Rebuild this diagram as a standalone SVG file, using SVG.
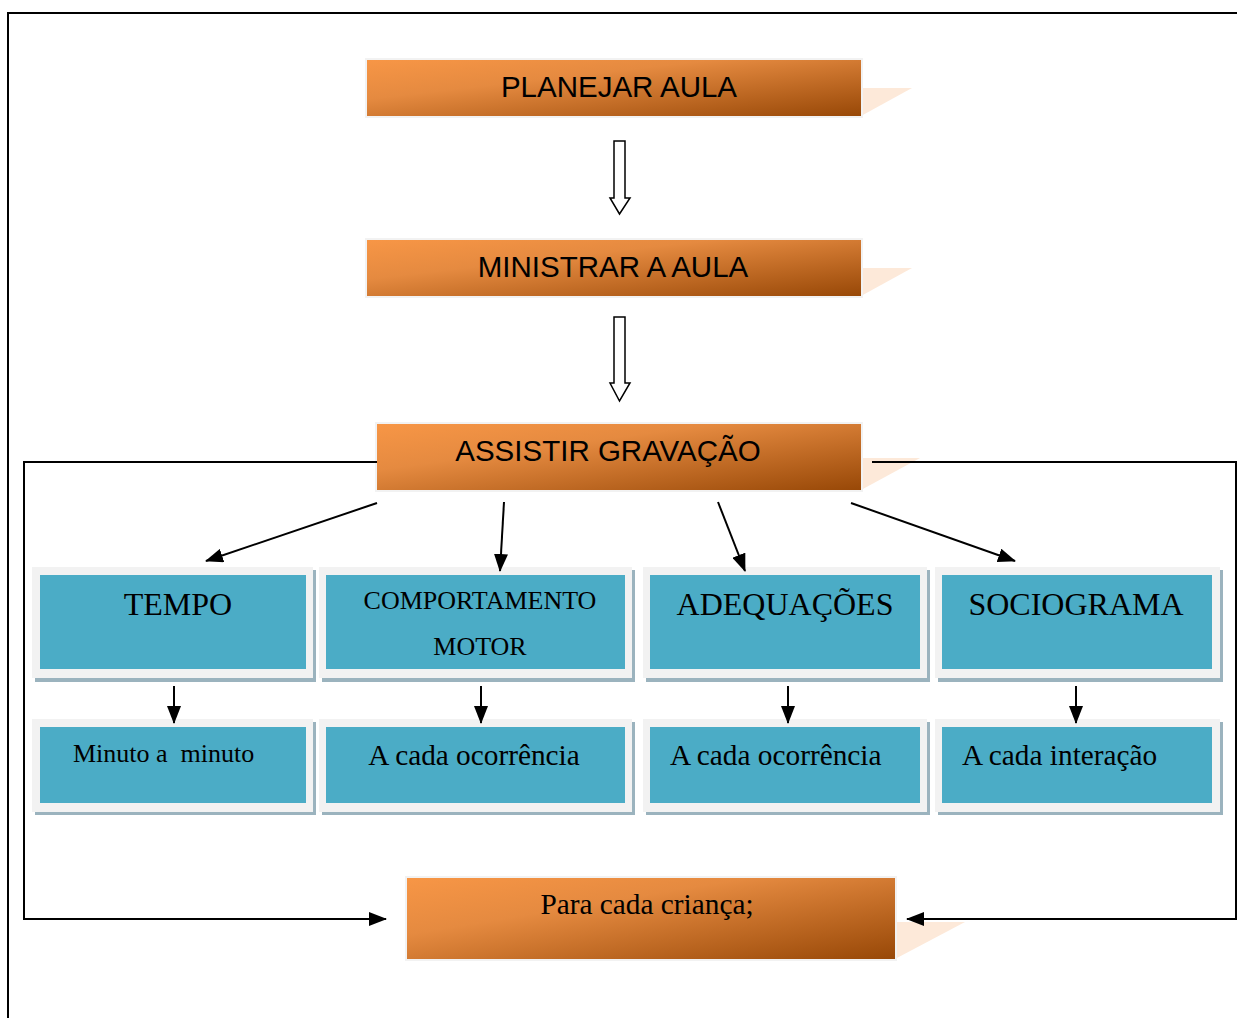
<svg xmlns="http://www.w3.org/2000/svg" width="1237" height="1018" viewBox="0 0 1237 1018">
<defs>
<linearGradient id="og" x1="0" y1="0" x2="1" y2="1">
<stop offset="0" stop-color="#f79646"/>
<stop offset="0.35" stop-color="#e58a40"/>
<stop offset="1" stop-color="#984807"/>
</linearGradient>
<marker id="ah" markerWidth="18" markerHeight="14" refX="17" refY="7" orient="auto" markerUnits="userSpaceOnUse">
<path d="M0,0 L18,7 L0,14 Z" fill="#000"/>
</marker>
</defs>
<style>
.frame{fill:#f2f2f2}
.org{fill:url(#og)}
.shd{fill:#fde9d9}
.blue{fill:#4bacc6}
.bsh{fill:#9bb3be}
.sans{font-family:"Liberation Sans",Arial,sans-serif;font-size:29.5px;fill:#000;text-anchor:middle}
.serif{font-family:"Liberation Serif","Times New Roman",serif;fill:#000}
.c{text-anchor:middle}
.ln{stroke:#000;stroke-width:2;fill:none}
.hollow{fill:#fff;stroke:#000;stroke-width:1.5}
</style>
<rect width="1237" height="1018" fill="#fff"/>
<path d="M8,1018 V13 H1237" class="ln"/>

<g id="planejar">
<polygon class="shd" points="861,88 912,88 861,116"/>
<rect class="frame" x="365" y="58" width="498" height="60"/>
<rect class="org" x="367" y="60" width="494" height="56"/>
<text class="sans" x="619" y="97">PLANEJAR AULA</text>
</g>
<g id="ministrar">
<polygon class="shd" points="861,268 912,268 861,296"/>
<rect class="frame" x="365" y="238" width="498" height="60"/>
<rect class="org" x="367" y="240" width="494" height="56"/>
<text class="sans" x="613" y="277">MINISTRAR A AULA</text>
</g>
<g id="assistir">
<polygon class="shd" points="861,458 920,458 861,490"/>
<rect class="frame" x="375" y="422" width="488" height="70"/>
<rect class="org" x="377" y="424" width="484" height="66"/>
<text class="sans" x="608" y="461">ASSISTIR GRAVAÇÃO</text>
</g>
<g id="para">
<polygon class="shd" points="895,922 965,922 895,959"/>
<rect class="frame" x="405" y="876" width="492" height="85"/>
<rect class="org" x="407" y="878" width="488" height="81"/>
<text class="serif c" x="647" y="914" font-size="29.3">Para cada criança;</text>
</g>

<g id="tempo">
<rect class="bsh" x="35" y="570" width="281" height="112"/>
<rect class="frame" x="32" y="567" width="281" height="111"/>
<rect class="blue" x="40" y="575" width="266" height="94"/>
<text class="serif c" x="178" y="615" font-size="32">TEMPO</text>
</g>
<g id="comportamento">
<rect class="bsh" x="322" y="570" width="313" height="112"/>
<rect class="frame" x="319" y="567" width="313" height="111"/>
<rect class="blue" x="326" y="575" width="299" height="94"/>
<text class="serif c" x="480" y="609" font-size="26">COMPORTAMENTO</text>
<text class="serif c" x="480" y="655" font-size="26">MOTOR</text>
</g>
<g id="adequacoes">
<rect class="bsh" x="646" y="570" width="284" height="112"/>
<rect class="frame" x="643" y="567" width="284" height="111"/>
<rect class="blue" x="650" y="575" width="270" height="94"/>
<text class="serif c" x="785" y="615" font-size="32">ADEQUAÇÕES</text>
</g>
<g id="sociograma">
<rect class="bsh" x="938" y="570" width="285" height="112"/>
<rect class="frame" x="935" y="567" width="285" height="111"/>
<rect class="blue" x="942" y="575" width="270" height="94"/>
<text class="serif c" x="1076" y="615" font-size="32">SOCIOGRAMA</text>
</g>

<g id="minuto">
<rect class="bsh" x="35" y="722" width="281" height="93"/>
<rect class="frame" x="32" y="719" width="281" height="93"/>
<rect class="blue" x="40" y="727" width="266" height="76"/>
<text class="serif" x="73" y="762" font-size="26" style="white-space:pre">Minuto a  minuto</text>
</g>
<g id="ocorrencia1">
<rect class="bsh" x="322" y="722" width="313" height="93"/>
<rect class="frame" x="319" y="719" width="313" height="93"/>
<rect class="blue" x="326" y="727" width="299" height="76"/>
<text class="serif c" x="474" y="765" font-size="29.3">A cada ocorrência</text>
</g>
<g id="ocorrencia2">
<rect class="bsh" x="646" y="722" width="284" height="93"/>
<rect class="frame" x="643" y="719" width="284" height="93"/>
<rect class="blue" x="650" y="727" width="270" height="76"/>
<text class="serif" x="670" y="765" font-size="29.3">A cada ocorrência</text>
</g>
<g id="interacao">
<rect class="bsh" x="938" y="722" width="285" height="93"/>
<rect class="frame" x="935" y="719" width="285" height="93"/>
<rect class="blue" x="942" y="727" width="270" height="76"/>
<text class="serif" x="962" y="765" font-size="29.3">A cada interação</text>
</g>

<g id="connectors">
<polygon class="hollow" points="614,141 625,141 625,198 630,198 619.5,214 610,198 614,198"/>
<polygon class="hollow" points="614,317 625,317 625,383 630,383 619.5,401 610,383 614,383"/>
<path class="ln" d="M377,462 H24 V919 H386" marker-end="url(#ah)"/>
<path class="ln" d="M872,462 H1236 V919 H907" marker-end="url(#ah)"/>
<line class="ln" x1="377" y1="503" x2="206" y2="561" marker-end="url(#ah)"/>
<line class="ln" x1="504" y1="502" x2="500" y2="571" marker-end="url(#ah)"/>
<line class="ln" x1="718" y1="502" x2="745" y2="571" marker-end="url(#ah)"/>
<line class="ln" x1="851" y1="503" x2="1015" y2="561" marker-end="url(#ah)"/>
<line class="ln" x1="174" y1="686" x2="174" y2="723" marker-end="url(#ah)"/>
<line class="ln" x1="481" y1="686" x2="481" y2="723" marker-end="url(#ah)"/>
<line class="ln" x1="788" y1="686" x2="788" y2="723" marker-end="url(#ah)"/>
<line class="ln" x1="1076" y1="686" x2="1076" y2="723" marker-end="url(#ah)"/>
</g>
</svg>
